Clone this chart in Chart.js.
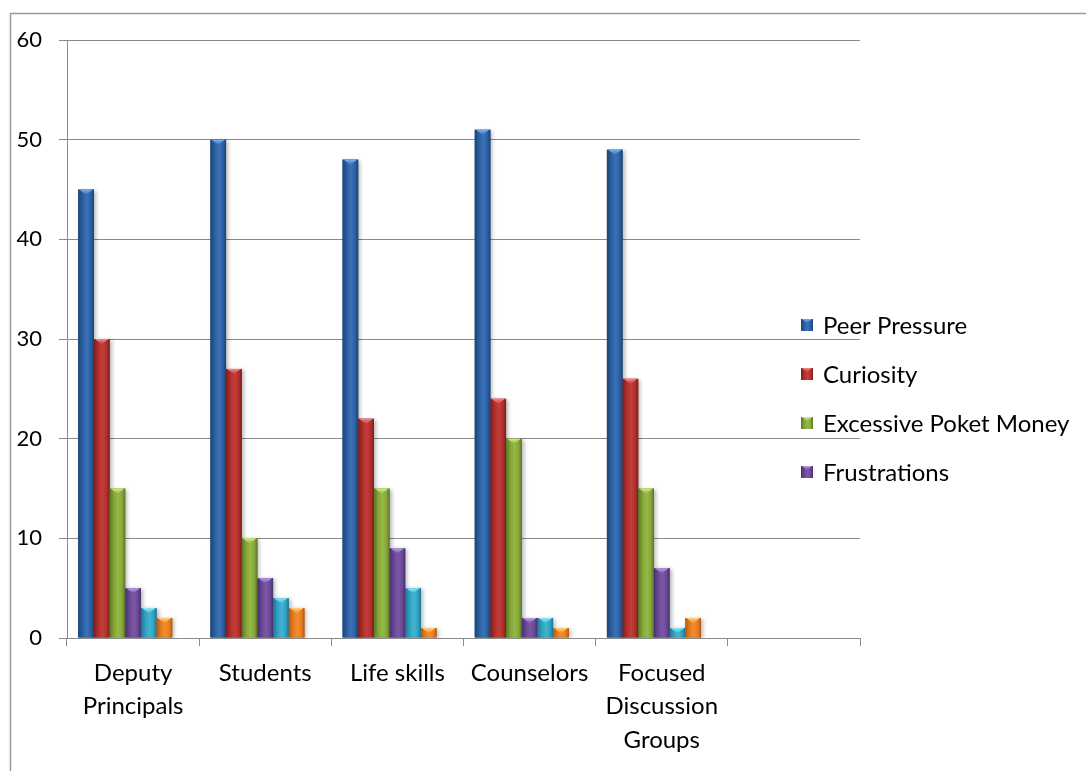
<!DOCTYPE html>
<html>
<head>
<meta charset="utf-8">
<script src="https://cdn.jsdelivr.net/npm/chart.js@4/dist/chart.umd.min.js"></script>
<style>
  html, body { margin: 0; padding: 0; background: #fff; }
  #wrap { position: relative; width: 1086px; height: 771px; }
</style>
</head>
<body>
<div id="wrap"><canvas id="c"></canvas></div>
<script>
// ---- data ----
const categories = [["Deputy", "Principals"], ["Students"], ["Life skills"], ["Counselors"], ["Focused", "Discussion", "Groups"], ""];
const seriesNames = ["Peer Pressure", "Curiosity", "Excessive Poket Money", "Frustrations", "Series5", "Series6", "Series7"];
const peerPressure = [45, 50, 48, 51, 49, null];
const curiosity = [30, 27, 22, 24, 26, null];
const excessivePoketMoney = [15, 10, 15, 20, 15, null];
const frustrations = [5, 6, 9, 2, 7, null];
const series5 = [3, 4, 5, 2, 1, null];
const series6 = [2, 3, 1, 1, 2, null];
const series7 = [null, null, null, null, null, null];
const yTicks = [0, 10, 20, 30, 40, 50, 60];
const legendCount = 4;

// colour sets: [dark edge, mid, light centre, cap]
const palette = [
  ["#1b4374", "#2c60a3", "#3a72b8", "#7fb0ec"],
  ["#7c1e1c", "#b2302d", "#c23e3a", "#f08a86"],
  ["#5a7722", "#86a83b", "#95b845", "#d4ee8a"],
  ["#47306d", "#6b4997", "#7a58a6", "#bba0e6"],
  ["#1a7893", "#31a2c2", "#44b3d2", "#90e6fa"],
  ["#b45811", "#e67e21", "#f18c2e", "#ffd07e"],
  ["#777", "#999", "#aaa", "#ddd"]
];

const allSeries = [peerPressure, curiosity, excessivePoketMoney, frustrations, series5, series6, series7];

Chart.defaults.font.family = "Lato";

function paintBar(ctx, left, top, w, h, pal, shadow) {
  ctx.save();
  if (shadow) {
    ctx.shadowColor = "rgba(0,0,0,0.28)";
    ctx.shadowBlur = 4;
    ctx.shadowOffsetX = 2;
    ctx.shadowOffsetY = 1;
  }
  const g = ctx.createLinearGradient(left, 0, left + w, 0);
  g.addColorStop(0, pal[0]);
  g.addColorStop(0.3, pal[1]);
  g.addColorStop(0.55, pal[2]);
  g.addColorStop(0.8, pal[1]);
  g.addColorStop(1, pal[0]);
  ctx.fillStyle = g;
  ctx.fillRect(left, top, w, h);
  ctx.restore();
  // bevel cap triangle
  const th = Math.min(w * 0.33, h);
  ctx.save();
  ctx.beginPath();
  ctx.moveTo(left + 1, top);
  ctx.lineTo(left + w - 1, top);
  ctx.lineTo(left + w / 2, top + th);
  ctx.closePath();
  const cg = ctx.createLinearGradient(0, top, 0, top + th);
  cg.addColorStop(0, pal[3]);
  cg.addColorStop(1, pal[2]);
  ctx.fillStyle = cg;
  ctx.fill();
  ctx.restore();
}

const barStyle = {
  id: "barStyle",
  afterDatasetsDraw(chart) {
    const ctx = chart.ctx;
    const area = chart.chartArea;
    ctx.save();
    ctx.beginPath();
    ctx.rect(area.left, area.top - 2, area.right - area.left + 10, area.bottom - area.top + 2);
    ctx.clip();
    chart.data.datasets.forEach((ds, di) => {
      const meta = chart.getDatasetMeta(di);
      if (meta.hidden) return;
      meta.data.forEach((bar, i) => {
        if (ds.data[i] == null) return;
        const p = bar.getProps(["x", "y", "base", "width"], true);
        const left = p.x - p.width / 2;
        const top = Math.min(p.y, p.base);
        const h = Math.abs(p.base - p.y);
        if (h <= 0) return;
        paintBar(ctx, left, top, p.width, h, palette[di], true);
      });
    });
    ctx.restore();
  }
};

const frameAndLegend = {
  id: "frameAndLegend",
  beforeDraw(chart) {
    const ctx = chart.ctx;
    ctx.save();
    ctx.strokeStyle = "#9a9a9a";
    ctx.lineWidth = 1.5;
    ctx.beginPath();
    ctx.moveTo(10.5, chart.height + 5);
    ctx.lineTo(10.5, 13.5);
    ctx.lineTo(chart.width + 5, 13.5);
    ctx.stroke();
    ctx.restore();
  },
  afterDraw(chart) {
    const ctx = chart.ctx;
    ctx.save();
    ctx.font = "24px Lato";
    ctx.fillStyle = "#000";
    ctx.textBaseline = "middle";
    ctx.textAlign = "left";
    const startY = 325, step = 49;
    for (let i = 0; i < legendCount; i++) {
      const cy = startY + i * step;
      paintBar(ctx, 801, cy - 6, 12, 12, palette[i], false);
      ctx.fillStyle = "#000";
      ctx.fillText(chart.data.datasets[i].label, 823, cy + 1);
    }
    ctx.restore();
  }
};

const datasets = allSeries.map((arr, i) => ({
  label: seriesNames[i],
  data: arr,
  backgroundColor: palette[i][1],
  borderWidth: 0,
  categoryPercentage: 0.83,
  barPercentage: 1.0
}));

new Chart(document.getElementById("c"), {
  type: "bar",
  data: { labels: categories, datasets: datasets },
  options: {
    responsive: true,
    maintainAspectRatio: false,
    animation: false,
    layout: { padding: { top: 40, right: 226, left: 0, bottom: 0 } },
    plugins: {
      legend: { display: false },
      tooltip: { enabled: false }
    },
    scales: {
      x: {
        grid: { display: true, drawOnChartArea: false, drawTicks: true, tickLength: 8, color: "#8a8a8a", offset: true },
        border: { color: "#8a8a8a" },
        ticks: {
          color: "#000",
          font: { family: "Lato", size: 24, lineHeight: 1.4 },
          padding: 10,
          maxRotation: 0,
          autoSkip: false
        },
        afterFit(s) { s.height = 133; }
      },
      y: {
        min: 0,
        max: 60,
        afterBuildTicks(s) { s.ticks = yTicks.map(v => ({ value: v })); },
        grid: { color: "#8a8a8a", tickLength: 8 },
        border: { color: "#8a8a8a" },
        ticks: {
          color: "#000",
          font: { family: "Lato", size: 22 },
          padding: 17
        },
        afterFit(s) { s.width = 67; }
      }
    }
  },
  plugins: [frameAndLegend, barStyle]
});
</script>
</body>
</html>
